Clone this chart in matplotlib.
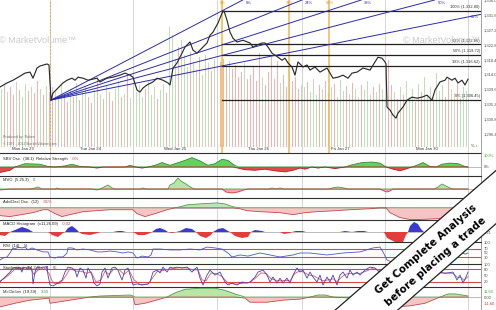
import matplotlib
matplotlib.use('Agg')
import matplotlib.pyplot as plt
from matplotlib.patches import Polygon
import numpy as np

plt.rcParams['font.family'] = ['Liberation Sans', 'DejaVu Sans']

# ---------------- data (x = intraday bar index, ~84 bars per session) ----------------
day_breaks = [50, 133, 217, 302, 385, 468]
date_pos = [23, 90, 175, 258, 340, 427]
date_txt = ['Mon Jan 23', 'Tue Jan 24', 'Wed Jan 25', 'Thu Jan 26', 'Fri Jan 27', 'Mon Jan 30']

price = [(0, 1310.3), (7, 1311.5), (13, 1312.3), (20, 1313.5), (25, 1314.4), (30, 1314.7), (33, 1312.9),
         (37, 1315.9), (40, 1316.5), (47, 1317.1), (49, 1316.8), (51, 1306.5), (53, 1308.5), (58, 1310.0),
         (63, 1311.5), (67, 1312.3), (72, 1312.9), (75, 1312.3), (78, 1313.2), (83, 1312.9), (88, 1312.3),
         (97, 1312.9), (100, 1311.8), (107, 1312.9), (113, 1313.2), (120, 1313.8), (125, 1314.4),
         (130, 1313.8), (133, 1313.2), (137, 1309.4), (140, 1308.8), (143, 1310.0), (147, 1310.9),
         (153, 1311.8), (157, 1312.9), (163, 1312.3), (168, 1311.5), (170, 1310.9), (173, 1315.9),
         (177, 1317.4), (182, 1320.3), (185, 1322.1), (190, 1323.6), (193, 1321.2), (197, 1320.3),
         (200, 1321.2), (207, 1323.3), (210, 1325.6), (213, 1326.5), (218, 1329.2), (222, 1332.1),
         (224, 1332.8), (227, 1330.0), (230, 1326.5), (233, 1324.7), (237, 1323.6), (243, 1324.1),
         (250, 1323.3), (253, 1322.1), (257, 1322.7), (262, 1323.3), (265, 1323.3), (268, 1322.1),
         (272, 1320.3), (275, 1319.7), (278, 1319.1), (282, 1318.2), (285, 1318.8), (288, 1317.4),
         (292, 1316.2), (295, 1313.8), (298, 1317.7), (303, 1316.2), (307, 1316.8), (310, 1315.3),
         (315, 1316.2), (320, 1314.7), (327, 1315.9), (330, 1314.4), (333, 1312.9), (338, 1313.2),
         (343, 1313.8), (348, 1312.9), (352, 1314.4), (357, 1314.7), (363, 1315.9), (370, 1315.3),
         (375, 1317.7), (378, 1319.1), (382, 1318.8), (385, 1317.7), (386, 1317.1), (387, 1304.4),
         (390, 1303.5), (393, 1302.0), (396, 1301.1), (398, 1302.6), (403, 1304.4), (407, 1306.4),
         (412, 1307.3), (417, 1307.0), (422, 1307.3), (427, 1307.9), (432, 1306.4), (435, 1309.4),
         (440, 1311.8), (445, 1312.3), (447, 1313.2), (452, 1312.3), (455, 1312.9), (458, 1311.5),
         (462, 1312.3), (465, 1310.9), (468, 1312.6)]

# volume, one bar every 3 bar-units
volume = [5.8, 6.2, 5.5, 6.0, 5.2, 6.5, 5.7, 5.0, 6.3, 5.6, 6.0, 5.4, 6.6, 5.8, 5.2, 6.1, 5.5,
          6.0, 5.5, 4.8, 6.2, 5.2, 4.5, 5.8, 5.0, 6.4, 4.7, 5.5, 6.0, 5.0, 4.4, 5.7, 7.0, 5.2, 4.8,
          6.1, 5.5, 4.6, 5.8, 6.6, 5.0, 5.3, 7.2, 4.9, 6.0,
          5.5, 6.2, 5.0, 5.8, 6.6, 5.2, 6.0, 4.8, 5.7, 6.3, 5.4, 12.0, 11.2, 8.8, 10.0, 10.7, 9.2,
          8.0, 9.5, 8.5, 7.8, 9.0, 7.2, 9.2, 8.4, 7.6, 8.8, 8.0,
          8.5, 8.8, 8.0, 8.6, 7.8, 8.2, 7.0, 7.5, 8.4, 6.8, 7.2, 8.0, 6.6, 9.4, 7.0, 6.2, 7.5, 9.0,
          6.8, 8.6, 6.4, 7.2, 6.0, 7.8, 6.6, 7.0, 5.8, 6.2,
          6.0, 6.5, 5.5, 6.8, 5.2, 6.2, 5.8, 6.6, 5.4, 6.0, 6.3, 5.0, 6.7, 5.6, 6.1, 5.3, 6.4, 5.8,
          5.0, 6.2, 5.7, 6.6, 5.2, 6.0, 5.5, 6.3, 5.8, 5.4,
          8.7, 6.2, 5.5, 4.8, 6.0, 5.2, 6.6, 5.0, 5.8, 4.5, 6.3, 5.5, 7.0, 5.2, 6.0, 4.8, 7.4, 5.6,
          6.2, 5.0, 6.8, 5.8, 5.4, 6.4, 4.9, 6.0, 5.6]
vol_side = ("grgrrgrggrgrrgrgr"
            "rgrgrrgrgrggrrgrgrgrrggrgrgr"
            "gggrgggrggrgggrgggrggrgggrgg"
            "rrrgrrrrgrrrrrgrrrrrgrrgrrrg"
            "grgggrgrggrgggrgrggrgggrgrgg"
            "rrgrgrgggrgrgggrgggrrggrggg")

price_ticks = [1296.4, 1300.8, 1305.2, 1309.6, 1314.0, 1318.4, 1322.8, 1327.2, 1331.6, 1336.0]

fib_levels = [1332.80, 1322.86, 1319.72, 1316.62, 1306.45]
fib_names = ['100% (1,332.80)', '62% (1,322.86)', '50% (1,319.72)', '38% (1,316.62)', '0% (1,306.45)']
swing_low = (51, 1306.45)
swing_high = (222, 1332.80)
fan_ratios = [0.0, 0.236, 0.382, 0.5, 0.618]
fan_names = ['0%', '24%', '38%', '50%', '62%']
time_lines = [222, 289, 329]
time_names = ['0%', '38%', '62%']

sbv = [(0, -50), (10, -30), (15, 0), (25, 30), (40, 25), (48, 5), (55, 0), (65, 10), (72, 25), (80, 5),
       (90, 0), (97, -10), (103, 0), (125, 0), (130, 15), (136, 0), (142, -10), (148, 0), (155, 15),
       (162, 40), (170, 15), (175, 30), (185, 60), (192, 85), (200, 55), (208, 15), (215, 30), (222, 70),
       (228, 60), (233, 25), (238, -10), (245, -25), (255, -30), (265, -20), (275, -35), (285, -45),
       (293, -30), (300, -10), (305, -20), (312, 0), (318, -10), (325, 0), (335, -15), (345, 0),
       (352, 20), (362, 40), (372, 45), (380, 35), (386, 0), (393, -20), (400, -35), (407, -15),
       (412, 0), (418, 20), (423, 40), (430, 5), (436, 0), (442, 25), (450, 35), (458, 30), (465, 5),
       (468, 0)]

mvo = [(0, -1), (10, 0), (30, 0), (35, 1), (38, 2), (42, 0), (55, 0), (57, 1), (60, 0), (92, 0), (97, -1),
       (100, 0), (104, 2), (108, 4), (112, 1), (115, 0), (140, 0), (143, 1), (146, 0), (168, 0), (170, 4),
       (174, 6), (178, 11), (181, 8), (186, 5), (192, 1), (195, 0), (222, 0), (226, -3), (232, -4),
       (238, -3), (244, -1), (248, 0), (268, 0), (272, 1), (276, 0), (280, 1), (284, 0), (328, 0),
       (332, 1), (338, 2), (344, 1), (348, 0), (380, 0), (384, -2), (387, -3), (390, -2), (393, 0),
       (434, 0), (438, 2), (442, 5), (446, 3), (450, 1), (453, 0), (468, 0)]

adv_decl = [(0, -8), (10, -9), (33, -5), (43, -2), (48, -2), (55, -6), (62, -9), (70, -7), (83, -4),
            (110, -2), (133, -2), (137, -6), (145, -9), (155, -6), (167, -2), (175, 0), (180, 1),
            (187, 3), (200, 4), (217, 5), (225, 4), (233, 1), (240, -1), (247, -3), (260, -4),
            (280, -5), (293, -7), (305, -5), (317, -4), (335, -3), (350, -2), (370, -1), (380, 0),
            (386, 0), (390, -5), (400, -10), (410, -12), (420, -12), (440, -11), (460, -10), (468, -10)]

macd_hist = [(0, -0.03), (5, -0.04), (10, 0), (15, 0.02), (22, 0.05), (28, 0.03), (33, 0), (48, 0),
             (52, -0.03), (58, -0.05), (63, -0.01), (65, 0), (68, 0.04), (72, 0.06), (76, 0.03), (79, 0),
             (82, -0.02), (90, -0.03), (98, -0.01), (100, 0), (113, 0), (118, 0.01), (122, 0.01),
             (126, 0), (133, 0), (138, -0.03), (145, -0.03), (150, -0.01), (152, 0), (156, 0.03),
             (160, 0.04), (165, 0.02), (168, 0), (172, -0.01), (176, 0), (180, 0.01), (186, 0.04),
             (192, 0.03), (196, 0), (200, -0.04), (206, -0.06), (211, -0.03), (213, 0), (218, 0.03),
             (223, 0.04), (228, 0.01), (230, 0), (235, -0.04), (242, -0.06), (248, -0.05), (251, 0),
             (255, 0.02), (262, 0.01), (265, 0), (280, 0), (284, -0.02), (290, -0.01), (292, 0),
             (296, 0.01), (302, 0.01), (306, 0), (340, 0), (345, 0.01), (352, 0), (358, 0.01),
             (364, 0.01), (368, 0), (384, 0), (387, -0.06), (395, -0.10), (403, -0.10), (406, -0.03),
             (408, 0), (410, 0.06), (414, 0.10), (418, 0.08), (421, 0.03), (424, 0), (468, 0)]

rsi = [(0, 18), (3, 27), (7, 32), (10, 50), (13, 73), (15, 68), (18, 77), (22, 73), (25, 77), (28, 64),
       (32, 73), (37, 64), (43, 55), (48, 55), (50, 32), (55, 27), (58, 32), (63, 32), (67, 50), (68, 73),
       (72, 73), (77, 64), (83, 68), (90, 64), (97, 55), (103, 55), (110, 59), (117, 55), (123, 50),
       (128, 55), (133, 50), (137, 27), (142, 36), (148, 32), (151, 41), (153, 68), (160, 68), (170, 64),
       (180, 64), (190, 68), (200, 64), (207, 77), (215, 73), (222, 68), (228, 50), (232, 32), (240, 41),
       (248, 36), (260, 50), (270, 41), (280, 32), (293, 41), (300, 50), (310, 50), (327, 41), (343, 50),
       (360, 55), (373, 73), (380, 77), (383, 55), (387, 18), (392, 9), (400, 14), (410, 23), (420, 32),
       (430, 36), (440, 45), (450, 50), (455, 41), (460, 55), (465, 45), (468, 50)]

stoch_k = [(0, 20), (3, 34), (7, 52), (10, 66), (13, 85), (17, 89), (20, 85), (22, 66), (23, 89), (27, 85),
           (30, 89), (32, 75), (33, 11), (35, 66), (37, 89), (40, 85), (43, 89), (47, 89), (48, 52), (50, 6),
           (53, 2), (58, 15), (62, 29), (65, 66), (68, 89), (72, 85), (75, 75), (77, 43), (80, 85), (83, 75),
           (86, 38), (88, 85), (92, 52), (94, 15), (97, 2), (100, 11), (102, 66), (105, 85), (108, 38),
           (112, 85), (115, 89), (118, 75), (122, 29), (125, 75), (128, 85), (133, 6), (137, 11), (142, 6),
           (148, 11), (150, 20), (153, 66), (157, 75), (160, 62), (163, 89), (167, 66), (170, 89),
           (173, 85), (177, 89), (182, 85), (187, 89), (192, 66), (197, 89), (200, 38), (203, 6),
           (207, 52), (210, 75), (215, 52), (220, 66), (225, 20), (228, 6), (232, 15), (237, 6), (242, 20),
           (247, 15), (250, 20), (255, 43), (258, 66), (263, 75), (267, 52), (270, 20), (273, 43),
           (277, 15), (280, 38), (283, 15), (287, 38), (290, 15), (293, 52), (297, 85), (300, 66),
           (303, 75), (307, 38), (310, 66), (313, 43), (317, 20), (320, 52), (323, 6), (327, 43),
           (330, 20), (333, 52), (337, 6), (340, 52), (343, 66), (347, 38), (350, 75), (353, 52),
           (357, 66), (360, 52), (365, 75), (370, 89), (375, 85), (380, 62), (385, 40), (388, 10),
           (395, 5), (405, 15), (415, 30), (425, 55), (435, 70), (445, 60), (453, 66), (457, 29),
           (460, 52), (463, 15), (466, 43), (468, 66)]

stoch_d = [(0, 25), (5, 38), (10, 58), (15, 80), (20, 85), (25, 80), (30, 85), (34, 55), (38, 75), (44, 86),
           (49, 60), (53, 15), (60, 12), (66, 50), (70, 82), (76, 70), (81, 70), (87, 60), (91, 68), (96, 20),
           (101, 30), (105, 70), (109, 55), (114, 80), (119, 78), (124, 55), (129, 75), (134, 30), (140, 8),
           (148, 10), (152, 35), (157, 68), (162, 72), (167, 78), (172, 82), (180, 86), (188, 85), (193, 75),
           (198, 78), (202, 30), (206, 25), (211, 62), (217, 58), (222, 45), (228, 15), (235, 10), (243, 14),
           (250, 18), (256, 40), (261, 62), (266, 60), (271, 35), (276, 28), (281, 25), (286, 28), (290, 25),
           (295, 60), (300, 72), (304, 65), (309, 52), (314, 48), (319, 35), (323, 25), (328, 30), (333, 35),
           (337, 22), (341, 40), (345, 55), (350, 60), (355, 60), (360, 60), (366, 70), (372, 82),
           (378, 78), (384, 55), (390, 20), (398, 8), (410, 20), (420, 40), (432, 62), (445, 62), (453, 60),
           (457, 42), (461, 40), (464, 28), (468, 45)]

mcclellan = [(0, -19), (15, -12), (30, -6), (45, -3), (49, -2), (50, -12), (70, -6), (90, 0), (100, 2),
             (130, 4), (133, 2), (135, -15), (145, -12), (160, -4), (167, 0), (175, 8), (185, 15), (200, 17),
             (215, 17), (225, 13), (235, 6), (245, -2), (250, -10), (267, -10), (283, -6), (300, -4),
             (310, 0), (318, 4), (325, 4), (333, 0), (350, -2), (383, -2), (388, -15), (395, -19),
             (410, -17), (425, -12), (440, 0), (448, 6), (455, 6), (462, 4), (468, 2)]

# ---------------- layout (pixel rows of the 496x310 picture) ----------------
W, H = 496, 310
X_END = 481
rows = {'main': (0, 153), 'sbv': (153, 176), 'mvo': (176, 198), 'adv': (198, 220),
        'macd': (220, 242), 'rsi': (242, 264), 'stoch': (264, 287), 'mcc': (287, 310)}

fig = plt.figure(figsize=(W / 100, H / 100), dpi=100)
fig.patch.set_facecolor('white')

GRID = '#cfcfcf'
FS = 3.0


def panel(name):
    top, bot = rows[name]
    ax = fig.add_axes([0, 1 - bot / H, X_END / W, (bot - top) / H])
    ax.set_xlim(0, X_END)
    for s in ('left', 'bottom'):
        ax.spines[s].set_visible(False)
    ax.spines['top'].set_color('#303030')
    ax.spines['top'].set_linewidth(0.8)
    ax.spines['right'].set_color('#909090')
    ax.spines['right'].set_linewidth(0.6)
    ax.set_xticks([])
    ax.yaxis.tick_right()
    ax.tick_params(axis='y', length=0, pad=2, labelsize=3.0, labelcolor='#505050')
    for d in day_breaks:
        ax.axvline(d, color=GRID, lw=0.6, zorder=0)
    return ax


def label(ax, text, values, y=0.78):
    t = ax.text(3, y, text, transform=ax.get_xaxis_transform(), fontsize=FS, color='#202020', va='center')
    for val, col in values:
        t = ax.annotate(val, xy=(1, 0.5), xycoords=t, xytext=(3, 0), textcoords='offset points',
                        fontsize=FS, color=col, va='center')


def xy(pts):
    return np.array([p[0] for p in pts], float), np.array([p[1] for p in pts], float)


def osc(ax, pts, up, down, line_up, line_dn, lw=0.6):
    x, v = xy(pts)
    ax.axhline(0, color='#a0a0a0', lw=0.5, zorder=1)
    ax.fill_between(x, 0, v, where=v >= 0, interpolate=True, color=up, lw=0, zorder=2)
    ax.fill_between(x, 0, v, where=v <= 0, interpolate=True, color=down, lw=0, zorder=2)
    ax.plot(x, np.where(v >= 0, v, 0), color=line_up, lw=lw, zorder=3)
    ax.plot(x, np.where(v <= 0, v, 0), color=line_dn, lw=lw, zorder=3)


# ---------------- main price panel ----------------
ax = panel('main')
ax.spines['top'].set_visible(False)
axv = ax.twinx()
axv.set_ylim(-0.6, 14.7)
axv.axis('off')
vx = 1.5 + 3 * np.arange(len(volume))
vcol = ['#bfdfb7' if s == 'g' else '#f2b2b2' for s in vol_side]
axv.bar(vx, volume, width=1.8, color=vcol, lw=0, zorder=1)
ax.set_zorder(axv.get_zorder() + 1)
ax.patch.set_visible(False)

ax.set_ylim(1290.8, 1335.94)
ax.yaxis.tick_right()
ax.set_yticks(price_ticks)
ax.set_yticklabels([f'{t:,.1f}' for t in price_ticks])
ax.tick_params(axis='y', length=0, pad=2, labelsize=3.0, labelcolor='#505050')

# fibonacci time lines
ax.axvline(day_breaks[0], color='#f0a640', lw=0.7, ls=(0, (2, 1.5)), zorder=2)
for x, n in zip(time_lines, time_names):
    ax.axvline(x, color='#f5c85a' if n == '0%' else '#f2b455', lw=1.4 if n == '0%' else 1.1, zorder=2)
    ax.text(x + 1, 1335.2, n, fontsize=3.0, color='#e09020', ha='center', va='center')

# fibonacci retracement levels
for lvl, n in zip(fib_levels, fib_names):
    ax.plot([swing_high[0], X_END], [lvl, lvl], color='#202020', lw=0.9, zorder=3)
    ax.text(X_END - 1, lvl + 0.55, n, fontsize=2.9, color='#303030', ha='right', va='bottom', zorder=4)

# fibonacci fan from the swing low
ymax = ax.get_ylim()[1]
rng = swing_high[1] - swing_low[1]
for r, n in zip(fan_ratios, fan_names):
    target = swing_high[1] - r * rng
    slope = (target - swing_low[1]) / (swing_high[0] - swing_low[0])
    x_top = swing_low[0] + (ymax - swing_low[1]) / slope
    x_end = min(x_top, X_END)
    y_end = swing_low[1] + slope * (x_end - swing_low[0])
    ax.plot([swing_low[0], x_end], [swing_low[1], y_end], color='#2a2ab0', lw=0.7, zorder=3)
    if x_top < X_END:
        ax.text(x_top + 3, ymax - 0.9, n, fontsize=3.0, color='#3030b0', ha='left', va='center')
    else:
        ax.text(X_END - 2, y_end - 0.3, n, fontsize=3.0, color='#3030b0', ha='right', va='top')

px, pv = xy(price)
ax.plot(px, pv, color='#2c2c2c', lw=0.85, zorder=4)

for x, t in zip(date_pos, date_txt):
    ax.text(x, 0.015, t, transform=ax.get_xaxis_transform(), fontsize=3.1, color='#303030',
            ha='center', va='bottom')
for x in (38, 442):
    ax.text(x, 0.735, '\u00a9 MarketVolume\u2122', transform=ax.get_xaxis_transform(), fontsize=6.6,
            color='#cacaca', ha='center', va='center', zorder=5)
ax.text(3, 0.095, 'Produced by: Robert', transform=ax.get_xaxis_transform(), fontsize=2.5, color='#707070')
ax.text(3, 0.055, '\u00a9 1997 - 2012 MarketVolume.com', transform=ax.get_xaxis_transform(), fontsize=2.5,
        color='#707070')
ax.text(X_END - 3, 0.04, '% \u2195', transform=ax.get_xaxis_transform(), fontsize=3.0, color='#404040',
        ha='right')

# ---------------- SBV oscillator ----------------
ax = panel('sbv')
ax.set_ylim(-82, 127)
osc(ax, sbv, '#5fd35f', '#e24b4b', '#2f8f2f', '#b02020')
ax.set_yticks([100, 0])
ax.set_yticklabels(['100%', '0%'])
ax.get_yticklabels()[0].set_color('#3aa83a')
label(ax, 'SBV Osc.  (38.1)  Relative Strength', [('-0%', '#d03030')], y=0.74)

# ---------------- MVO ----------------
ax = panel('mvo')
ax.set_ylim(-9, 13)
osc(ax, mvo, '#b7e4a8', '#f2a8a8', '#4aa04a', '#c04040')
ax.set_yticks([])
label(ax, 'MVO  (5,25,3)', [('0', '#2f8f2f')], y=0.8)

# ---------------- Adv/Decl ----------------
ax = panel('adv')
ax.set_ylim(-12.5, 10)
osc(ax, adv_decl, '#bfe6b0', '#f6c4c4', '#4aa04a', '#c04a4a')
ax.set_yticks([])
label(ax, 'Adv/Decl Osc.  (12)', [('-91%', '#d03030')], y=0.8)

# ---------------- MACD histogram ----------------
ax = panel('macd')
ax.set_ylim(-0.10, 0.12)
mx, mv = xy(macd_hist)
ax.fill_between(mx, 0, mv, where=mv >= 0, interpolate=True, color='#3a3ad2', lw=0, zorder=2)
ax.fill_between(mx, 0, mv, where=mv <= 0, interpolate=True, color='#e23c3c', lw=0, zorder=2)
ax.axhline(0, color='#a0a0a0', lw=0.5, zorder=1)
ax.set_yticks([0.0])
ax.set_yticklabels(['0.21'])
label(ax, 'MACD Histogram  (x11,26,09)', [('-0.02', '#d03030')], y=0.8)

# ---------------- RSI ----------------
ax = panel('rsi')
ax.set_ylim(0, 100)
for lv in (70, 30):
    ax.axhline(lv, color='#d84a4a', lw=0.8, zorder=1)
rx, rv = xy(rsi)
ax.plot(rx, rv, color='#5a4fc8', lw=0.6, zorder=3)
ax.set_yticks([100, 70, 50, 30])
ax.set_yticklabels(['100', '70', '50', '30'])
label(ax, 'RSI  (14)', [('51', '#3030c0')], y=0.8)

# ---------------- Stochastics ----------------
ax = panel('stoch')
ax.set_ylim(-3.2, 103.4)
for lv in (80, 20):
    ax.axhline(lv, color='#d84a4a', lw=0.8, zorder=1)
kx, kv = xy(stoch_k)
dx, dv = xy(stoch_d)
ax.plot(dx, dv, color='#e05a5a', lw=0.6, zorder=3)
ax.plot(kx, kv, color='#4a3fc0', lw=0.6, zorder=4)
ax.set_yticks([100, 80, 50, 20])
ax.set_yticklabels(['100', '80', '50', '20'])
label(ax, 'Stochastics  (14,3,3)', [('74', '#3030c0'), ('65', '#d03030')], y=0.82)

# ---------------- McClellan ----------------
ax = panel('mcc')
ax.set_ylim(-25, 19.4)
osc(ax, mcclellan, '#b7e6a6', '#f6c4c4', '#4aa04a', '#c04a4a')
ax.set_yticks([11.6, 0, -11.6])
ax.set_yticklabels(['11.60', '0.00', '-11.60'])
ax.get_yticklabels()[0].set_color('#3aa83a')
ax.get_yticklabels()[2].set_color('#d03030')
label(ax, 'McClellan  (19,39)', [('3.30', '#2f8f2f')], y=0.8)

# ---------------- promo ribbon ----------------
ov = fig.add_axes([0, 0, 1, 1])
ov.set_xlim(0, W)
ov.set_ylim(H, 0)
ov.axis('off')
ribbon = [(318, 325), (515, 154), (515, 207), (383, 323)]
ov.add_patch(Polygon(ribbon, closed=True, facecolor='white', edgecolor='#202020', lw=0.9, zorder=10))
ov.text(426, 249, 'Get Complete Analysis', rotation=41, fontsize=7.4, fontweight='bold',
        family='DejaVu Sans', ha='center', va='center', rotation_mode='anchor', zorder=11)
ov.text(436, 262, 'before placing a trade', rotation=41, fontsize=7.4, fontweight='bold',
        family='DejaVu Sans', ha='center', va='center', rotation_mode='anchor', zorder=11)

fig.savefig('out.png', dpi=100, facecolor='white')
